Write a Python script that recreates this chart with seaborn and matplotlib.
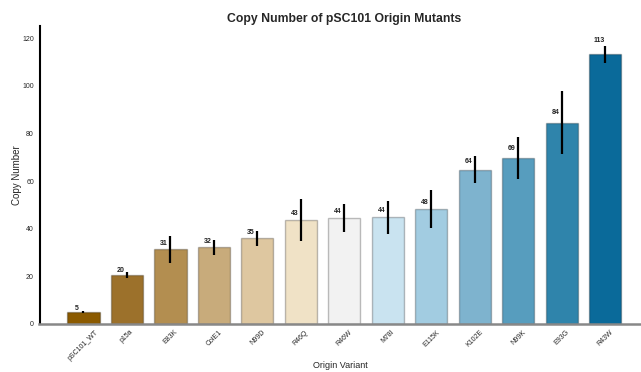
import numpy as np
import matplotlib
matplotlib.use("Agg")
import matplotlib.pyplot as plt
import seaborn as sns

# ==========================================
# DATA
# ==========================================
variants = ["pSC101_WT", "p15a", "E83K", "ColE1", "N99D", "R46Q", "R46W",
            "M78I", "E115K", "K102E", "N99K", "E93G", "R43W"]
copy_number = [5.0, 20.5, 31.3, 32.1, 35.9, 43.7, 44.4, 44.7, 48.1, 64.8, 69.7, 84.5, 113.4]
err_low = [4.6, 19.3, 25.7, 28.7, 32.8, 34.9, 38.7, 37.7, 40.1, 59.2, 61.0, 71.2, 109.5]
err_high = [5.4, 21.6, 37.0, 35.3, 38.9, 52.4, 50.2, 51.7, 56.2, 70.6, 78.4, 97.9, 116.9]

bar_colors = ["#8b5a00", "#9c712b", "#b38e50", "#c8ab7b", "#dec7a0", "#f0e2c6",
              "#f2f2f2", "#c9e3f0", "#a2cce1", "#7eb3ce", "#579dbe", "#2f84ab", "#0a6a9a"]

sns.set_style("white")
plt.rcParams['font.family'] = ['Liberation Sans', 'DejaVu Sans']

fig = plt.figure(figsize=(6.41, 3.72), dpi=100)
ax = fig.add_axes([39.5 / 641, 0.1298, 1 - 39.5 / 641, 0.799])

sns.barplot(x=variants, y=copy_number, hue=variants, palette=bar_colors,
            legend=False, width=0.74, saturation=1, edgecolor=(0, 0, 0, 0.25),
            linewidth=1, ax=ax)

# precomputed spread as error bars
pos = np.arange(len(variants))
vals = np.array(copy_number)
yerr = [vals - np.array(err_low), np.array(err_high) - vals]
ax.errorbar(pos, vals, yerr=yerr, fmt='none', ecolor='black', elinewidth=1.6, capsize=0)

# value labels above each bar
for i, v in enumerate(copy_number):
    ax.text(i - 0.15, v * 1.04 + 1, f"{int(v)}", ha='center', va='center',
            fontsize=5, fontweight='bold', color='#222222')

ax.set_xlim(-1.01, 12.82)
ax.set_ylim(0, 125)
ax.set_yticks(range(0, 121, 20))
ax.tick_params(axis='both', labelsize=5, length=0)
ax.tick_params(axis='y', pad=4)
plt.setp(ax.get_xticklabels(), rotation=45, ha='center')

ax.set_xlabel("Origin Variant", fontsize=6.5, va='center')
ax.xaxis.set_label_coords(0.4996, -0.142)
ax.set_ylabel("Copy Number", fontsize=7, va='center')
ax.yaxis.set_label_coords(-0.037, 0.5)
fig.suptitle("Copy Number of pSC101 Origin Mutants", fontsize=8.8,
             fontweight='bold', x=0.537, y=0.95, va='center')

sns.despine(ax=ax)
ax.spines['left'].set_color('black')
ax.spines['left'].set_linewidth(1.5)
ax.spines['bottom'].set_color('#888888')
ax.spines['bottom'].set_linewidth(1.8)

fig.savefig("out.png", dpi=100)
